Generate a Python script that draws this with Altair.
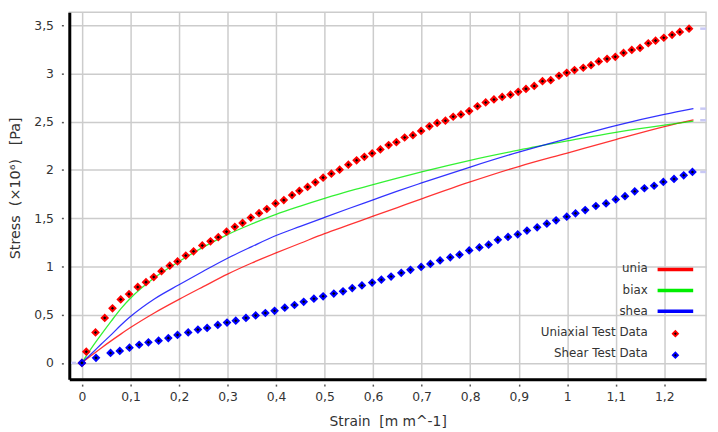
import altair as alt
import pandas as pd

# ---- data ----
uni_strain = [0.000, 0.009, 0.028, 0.047, 0.063, 0.080, 0.097, 0.115, 0.132, 0.148,
              0.164, 0.181, 0.197, 0.214, 0.230, 0.248, 0.265, 0.281, 0.298, 0.315,
              0.331, 0.348, 0.365, 0.381, 0.399, 0.416, 0.433, 0.448, 0.465, 0.481,
              0.497, 0.514, 0.531, 0.549, 0.566, 0.582, 0.598, 0.615, 0.632, 0.648,
              0.665, 0.682, 0.699, 0.716, 0.732, 0.749, 0.765, 0.781, 0.798, 0.815,
              0.832, 0.849, 0.866, 0.883, 0.899, 0.915, 0.932, 0.949, 0.966, 0.983,
              0.999, 1.015, 1.033, 1.049, 1.065, 1.082, 1.099, 1.116, 1.133, 1.150,
              1.167, 1.182, 1.199, 1.216, 1.232, 1.251]
uni_stress = [0.000, 0.116, 0.315, 0.466, 0.566, 0.658, 0.713, 0.787, 0.837, 0.890,
              0.950, 1.008, 1.051, 1.112, 1.156, 1.217, 1.260, 1.303, 1.360, 1.410,
              1.450, 1.506, 1.551, 1.595, 1.653, 1.687, 1.739, 1.783, 1.824, 1.872,
              1.920, 1.961, 2.003, 2.054, 2.100, 2.136, 2.172, 2.212, 2.258, 2.287,
              2.336, 2.360, 2.404, 2.452, 2.487, 2.510, 2.551, 2.575, 2.610, 2.660,
              2.699, 2.730, 2.757, 2.780, 2.810, 2.840, 2.870, 2.920, 2.930, 2.976,
              3.007, 3.035, 3.059, 3.086, 3.124, 3.151, 3.172, 3.213, 3.244, 3.264,
              3.313, 3.340, 3.370, 3.400, 3.430, 3.464]

shear_strain = [0.000, 0.029, 0.059, 0.078, 0.098, 0.118, 0.137, 0.158, 0.178, 0.197,
                0.219, 0.239, 0.258, 0.280, 0.299, 0.317, 0.338, 0.358, 0.378, 0.397,
                0.418, 0.438, 0.457, 0.478, 0.497, 0.519, 0.538, 0.557, 0.577, 0.598,
                0.617, 0.637, 0.658, 0.677, 0.699, 0.718, 0.738, 0.759, 0.778, 0.798,
                0.819, 0.838, 0.857, 0.878, 0.898, 0.917, 0.938, 0.958, 0.977, 0.999,
                1.017, 1.037, 1.059, 1.080, 1.100, 1.119, 1.139, 1.159, 1.179, 1.198,
                1.220, 1.240, 1.258]
shear_stress = [0.000, 0.052, 0.103, 0.124, 0.158, 0.188, 0.213, 0.230, 0.257, 0.290,
                0.315, 0.345, 0.362, 0.393, 0.418, 0.437, 0.466, 0.492, 0.517, 0.540,
                0.572, 0.600, 0.633, 0.665, 0.690, 0.718, 0.742, 0.775, 0.803, 0.832,
                0.862, 0.895, 0.933, 0.965, 0.995, 1.026, 1.062, 1.094, 1.122, 1.165,
                1.197, 1.225, 1.275, 1.305, 1.332, 1.371, 1.405, 1.443, 1.478, 1.515,
                1.550, 1.584, 1.626, 1.653, 1.694, 1.728, 1.778, 1.810, 1.836, 1.876,
                1.906, 1.944, 1.979]

curve_strain = [0, 0.01, 0.02, 0.04, 0.06, 0.08, 0.10, 0.15, 0.20, 0.25, 0.30, 0.35,
                0.40, 0.45, 0.50, 0.55, 0.60, 0.65, 0.70, 0.80, 0.90, 1.00, 1.10, 1.20, 1.26]
unia_model = [0, 0.040, 0.078, 0.155, 0.228, 0.298, 0.366, 0.520, 0.658, 0.790, 0.920, 1.035,
              1.140, 1.240, 1.340, 1.430, 1.520, 1.610, 1.700, 1.875, 2.035, 2.175, 2.315, 2.450, 2.520]
biax_model = [0, 0.080, 0.155, 0.295, 0.430, 0.560, 0.670, 0.885, 1.050, 1.200, 1.330, 1.440,
              1.540, 1.625, 1.705, 1.780, 1.847, 1.915, 1.980, 2.100, 2.205, 2.300, 2.390, 2.465, 2.505]
shea_model = [0, 0.050, 0.098, 0.195, 0.290, 0.390, 0.480, 0.665, 0.810, 0.950, 1.085, 1.205,
              1.320, 1.415, 1.508, 1.600, 1.690, 1.780, 1.865, 2.030, 2.185, 2.325, 2.460, 2.575, 2.635]

model_names = ["unia", "biax", "shea"]
model_colors = ["#ff0000", "#00ee00", "#0000ff"]
test_names = ["Uniaxial Test Data", "Shear Test Data"]
test_colors = ["#ff0000", "#0000ff"]

x_ticks = [0, 0.1, 0.2, 0.3, 0.4, 0.5, 0.6, 0.7, 0.8, 0.9, 1.0, 1.1, 1.2]
y_ticks = [0, 0.5, 1.0, 1.5, 2.0, 2.5, 3.0, 3.5]

# small lavender end markers at the plot edges
edge_start = [1.274, 1.274, 1.274, 1.274, -0.0225]
edge_end = [1.286, 1.286, 1.286, 1.286, -0.012]
edge_y = [3.464, 2.635, 2.515, 1.979, 0.0]

X_DOMAIN = [-0.026, 1.286]
Y_DOMAIN = [-0.169, 3.633]

# legend layout (pixels inside the plot area)
legend_text_x = 585
legend_text_y = [259, 280.7, 301.7, 323.3, 345]
legend_symbol_y = [260, 281.3, 302.3, 325, 346.7]
legend_line_x = [595, 631]
legend_point_x = 613

# ---- tables ----
rows = []
for name, vals in zip(model_names, [unia_model, biax_model, shea_model]):
    for s, v in zip(curve_strain, vals):
        rows.append({"series": name, "strain": s, "stress": v})
curves = pd.DataFrame(rows)

tests = pd.DataFrame(
    [{"series": test_names[0], "strain": s, "stress": v} for s, v in zip(uni_strain, uni_stress)]
    + [{"series": test_names[1], "strain": s, "stress": v} for s, v in zip(shear_strain, shear_stress)]
)

edges = pd.DataFrame({"strain": edge_start, "strain_end": edge_end, "stress": edge_y})

FONT = "DejaVu Sans"
TXT = "#333333"

x_axis = alt.Axis(
    values=x_ticks,
    labelExpr="replace(format(datum.value, '.1~f'), '.', ',')",
    grid=True, gridColor="#cccccc", gridWidth=1.5,
    domainColor="black", domainWidth=3,
    tickColor="#555555", tickSize=7, tickWidth=1.5, tickDash=[2, 5], tickDashOffset=2,
    labelPadding=4.4, labelFlush=False,
    labelFont=FONT, labelFontSize=12.5, labelColor=TXT,
    titleFont=FONT, titleFontSize=14, titleColor=TXT, titleFontWeight="normal",
    titleY=47, titleBaseline="alphabetic",
)
y_axis = alt.Axis(
    values=y_ticks,
    labelExpr="replace(format(datum.value, '.1~f'), '.', ',')",
    grid=True, gridColor="#cccccc", gridWidth=1.5,
    domainColor="black", domainWidth=3,
    tickColor="#555555", tickSize=8, tickWidth=1.5, tickDash=[2, 6], tickDashOffset=2,
    labelPadding=8, labelFlush=False,
    labelFont=FONT, labelFontSize=12.5, labelColor=TXT,
    titleFont=FONT, titleFontSize=14.5, titleColor=TXT, titleFontWeight="normal",
    titleX=-50.7, titleY=177.5, titleAngle=-90, titleAlign="center", titleBaseline="alphabetic",
)

x_enc = alt.X("strain:Q", scale=alt.Scale(domain=X_DOMAIN, nice=False, zero=False),
              axis=x_axis, title="Strain\u00a0\u00a0[m m^-1]")
y_enc = alt.Y("stress:Q", scale=alt.Scale(domain=Y_DOMAIN, nice=False, zero=False),
              axis=y_axis, title="Stress\u00a0\u00a0(\u00d710\u2076)\u00a0\u00a0\u00a0[Pa]")

lines = alt.Chart(curves).mark_line(strokeWidth=1.3, opacity=0.8, interpolate="monotone").encode(
    x=x_enc, y=y_enc,
    color=alt.Color("series:N", scale=alt.Scale(domain=model_names, range=model_colors),
                    legend=None),
)

points = alt.Chart(tests).mark_point(
    shape="diamond", size=36, fill="black", fillOpacity=1, strokeWidth=2, opacity=1
).encode(
    x=x_enc, y=y_enc,
    stroke=alt.Stroke("series:N", scale=alt.Scale(domain=test_names, range=test_colors),
                      legend=None),
)

edge_marks = alt.Chart(edges).mark_rule(color="#c8c8f4", strokeWidth=2.5).encode(
    x=x_enc, x2=alt.X2("strain_end:Q"), y=y_enc,
)

# ---- legend (drawn by hand so labels sit left of the symbols) ----
legend_layers = []
all_labels = model_names + test_names
for i, label in enumerate(all_labels):
    legend_layers.append(
        alt.Chart(pd.DataFrame({"label": [label]})).mark_text(
            align="right", baseline="middle", font=FONT, fontSize=12, color=TXT
        ).encode(text="label:N", x=alt.value(legend_text_x), y=alt.value(legend_text_y[i]))
    )
for i, color in enumerate(model_colors):
    legend_layers.append(
        alt.Chart(pd.DataFrame({"label": [model_names[i]]})).mark_rule(
            color=color, strokeWidth=3.5
        ).encode(x=alt.value(legend_line_x[0]), x2=alt.value(legend_line_x[1]),
                 y=alt.value(legend_symbol_y[i]))
    )
for j, color in enumerate(test_colors):
    legend_layers.append(
        alt.Chart(pd.DataFrame({"label": [test_names[j]]})).mark_point(
            shape="diamond", size=28, fill="black", fillOpacity=1, stroke=color,
            strokeWidth=1.8, opacity=1
        ).encode(x=alt.value(legend_point_x), y=alt.value(legend_symbol_y[3 + j]))
    )

chart = alt.layer(lines, edge_marks, points, *legend_layers).properties(
    width=644, height=371,
    padding={"left": 62, "top": 2, "right": 4, "bottom": 51},
    autosize=alt.AutoSizeParams(type="none"),
    background="white",
).configure_view(stroke="#cccccc", strokeWidth=1.5)

chart.save("out.html", embed_options={"renderer": "svg", "actions": False})
